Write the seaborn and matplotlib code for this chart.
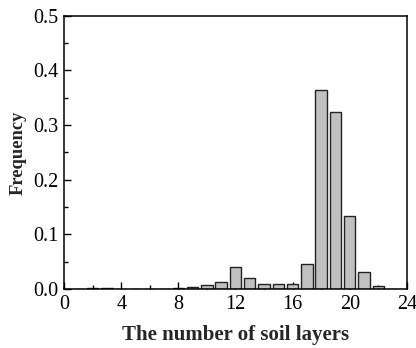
import matplotlib
matplotlib.use("Agg")
import matplotlib.pyplot as plt
import seaborn as sns
import pandas as pd
from matplotlib.ticker import MultipleLocator, FormatStrFormatter

layers = [1, 2, 3, 4, 5, 6, 7, 8, 9, 10, 11, 12, 13, 14, 15, 16, 17, 18, 19, 20, 21, 22, 23]
frequency = [0.0, 0.002, 0.001, 0.0005, 0.0005, 0.0005, 0.0005, 0.001, 0.004, 0.007, 0.013,
             0.0395, 0.021, 0.0085, 0.0085, 0.0088, 0.045, 0.364, 0.324, 0.134, 0.031, 0.006, 0.0]

x_label = "The number of soil layers"
y_label = "Frequency"

sns.set_theme(style="ticks")
plt.rcParams["font.family"] = ["Liberation Serif", "DejaVu Serif"]

df = pd.DataFrame({"layers": layers, "frequency": frequency})

fig = plt.figure(figsize=(4.16, 3.48), dpi=100)
ax = fig.add_axes([0.154, 0.1695, 0.824, 0.785])

sns.barplot(data=df, x="layers", y="frequency", native_scale=True, width=0.8,
            color="#c0c0c0", edgecolor="#222222", linewidth=1.0, saturation=1, ax=ax)

ax.set_xlim(0, 24)
ax.set_ylim(0, 0.5)
ax.xaxis.set_major_locator(MultipleLocator(4))
ax.xaxis.set_minor_locator(MultipleLocator(2))
ax.yaxis.set_major_locator(MultipleLocator(0.1))
ax.yaxis.set_minor_locator(MultipleLocator(0.05))
ax.yaxis.set_major_formatter(FormatStrFormatter("%.1f"))

ax.tick_params(which="both", direction="in", top=False, right=False, labelsize=14.5, colors="black")
ax.tick_params(axis="x", which="major", pad=4)
ax.tick_params(axis="y", which="major", pad=4)
ax.tick_params(which="major", length=5, width=1)
ax.tick_params(which="minor", length=3, width=1)
for s in ax.spines.values():
    s.set_linewidth(1.1)
    s.set_color("black")

ax.set_xlabel(x_label, fontsize=15, fontweight="bold", labelpad=8)
ax.set_ylabel(y_label, fontsize=13.3, fontweight="bold", labelpad=5)

fig.savefig("out.png", dpi=100)
